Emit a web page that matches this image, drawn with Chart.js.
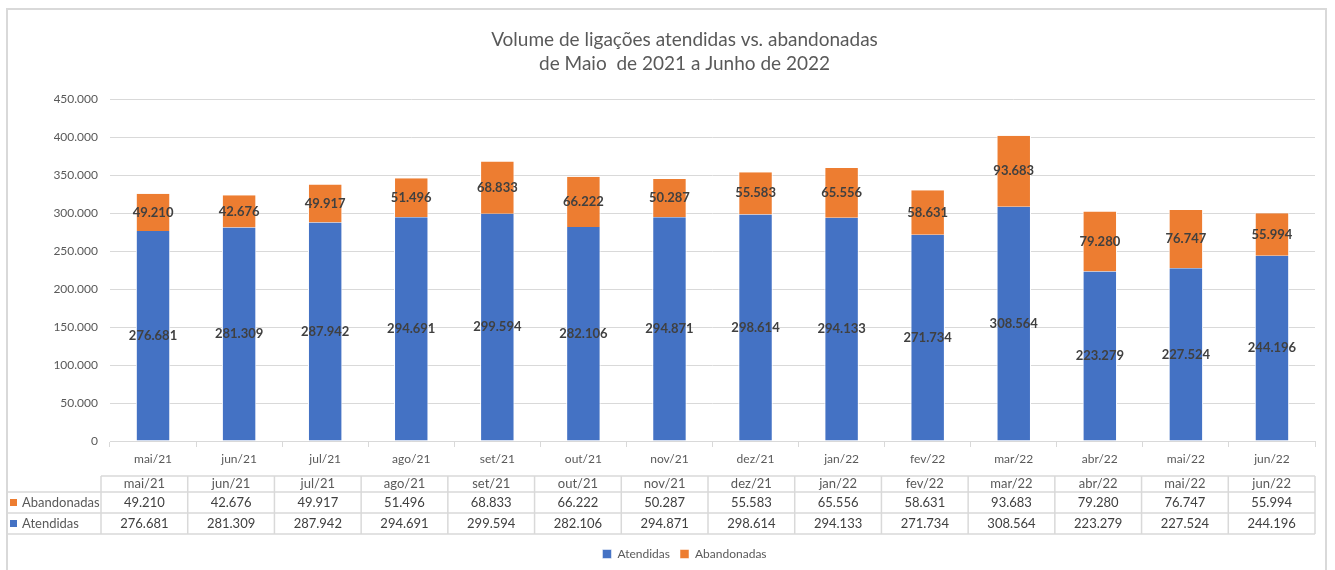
<!DOCTYPE html>
<html>
<head>
<meta charset="utf-8">
<script src="https://cdn.jsdelivr.net/npm/chart.js@4"></script>
<style>
  body { margin: 0; background: #fff; }
  #wrap { position: relative; width: 1335px; height: 570px; }
  #frame { position: absolute; left: 6px; top: 8px; width: 1321px; height: 580px; border: 2px solid #d9d9d9; box-sizing: border-box; }
  canvas { position: absolute; left: 0; top: 0; }
</style>
</head>
<body>
<div id="wrap">
  <div id="frame"></div>
  <canvas id="myChart" width="1335" height="570"></canvas>
</div>
<script>
var meses = ['mai/21', 'jun/21', 'jul/21', 'ago/21', 'set/21', 'out/21', 'nov/21',
             'dez/21', 'jan/22', 'fev/22', 'mar/22', 'abr/22', 'mai/22', 'jun/22'];
var atendidas = [276681, 281309, 287942, 294691, 299594, 282106, 294871,
                 298614, 294133, 271734, 308564, 223279, 227524, 244196];
var abandonadas = [49210, 42676, 49917, 51496, 68833, 66222, 50287,
                   55583, 65556, 58631, 93683, 79280, 76747, 55994];

var AZUL = '#4472C4';
var LARANJA = '#ED7D31';
var FONTE = 'Lato, "Open Sans", sans-serif';

function fmt(v) {
  return String(v).replace(/\B(?=(\d{3})+(?!\d))/g, '.');
}

// rotulos de dados no meio de cada segmento
var rotulos = {
  id: 'rotulos',
  afterDatasetsDraw: function(chart) {
    var ctx = chart.ctx;
    ctx.save();
    ctx.font = 'bold 13px ' + FONTE;
    ctx.fillStyle = '#404040';
    ctx.textAlign = 'center';
    ctx.textBaseline = 'middle';
    chart.data.datasets.forEach(function(ds, i) {
      chart.getDatasetMeta(i).data.forEach(function(bar, j) {
        ctx.fillText(fmt(ds.data[j]), bar.x, (bar.y + bar.base) / 2);
      });
    });
    ctx.restore();
  }
};

// tabela de dados abaixo do eixo x (como no Excel)
var tabela = {
  id: 'tabela',
  afterDraw: function(chart) {
    var ctx = chart.ctx;
    var x = chart.scales.x;
    var left = x.left - 9, right = x.right;
    var colW = (right - left) / meses.length;
    var top = chart.chartArea.bottom + 35;
    var rows = [top, top + 16, top + 37, top + 58];
    ctx.save();
    ctx.strokeStyle = '#d9d9d9';
    ctx.lineWidth = 1.5;
    ctx.beginPath();
    ctx.moveTo(left, rows[0]); ctx.lineTo(right, rows[0]);
    for (var r = 1; r < rows.length; r++) {
      ctx.moveTo(7, rows[r]); ctx.lineTo(right, rows[r]);
    }
    for (var c = 0; c <= meses.length; c++) {
      ctx.moveTo(left + c * colW, rows[0]); ctx.lineTo(left + c * colW, rows[3]);
    }
    ctx.stroke();

    ctx.textAlign = 'center';
    ctx.textBaseline = 'middle';
    ctx.font = '13px ' + FONTE;
    var series = [abandonadas, atendidas];
    meses.forEach(function(m, i) {
      var cx = left + (i + 0.5) * colW;
      ctx.fillStyle = '#595959';
      ctx.fillText(m, cx, (rows[0] + rows[1]) / 2);
      ctx.fillStyle = '#404040';
      series.forEach(function(s, k) {
        ctx.fillText(fmt(s[i]), cx, (rows[k + 1] + rows[k + 2]) / 2);
      });
    });

    var nomes = ['Abandonadas', 'Atendidas'];
    var cores = [LARANJA, AZUL];
    ctx.textAlign = 'left';
    nomes.forEach(function(n, k) {
      var cy = (rows[k + 1] + rows[k + 2]) / 2;
      ctx.fillStyle = cores[k];
      ctx.fillRect(10, cy - 3.5, 7, 7);
      ctx.fillStyle = '#595959';
      ctx.fillText(n, 22, cy);
    });
    ctx.restore();
  }
};

var ctx = document.getElementById('myChart').getContext('2d');
var myChart = new Chart(ctx, {
  type: 'bar',
  data: {
    labels: meses,
    datasets: [{
      label: 'Atendidas',
      data: atendidas,
      backgroundColor: AZUL,
      borderColor: '#ffffff',
      borderWidth: { left: 1, right: 1 },
      stack: 's'
    }, {
      label: 'Abandonadas',
      data: abandonadas,
      backgroundColor: LARANJA,
      borderColor: '#ffffff',
      borderWidth: { left: 1, right: 1 },
      stack: 's'
    }]
  },
  options: {
    responsive: false,
    animation: false,
    layout: { padding: { left: 54, right: 20, top: 0, bottom: 0 } },
    datasets: { bar: { categoryPercentage: 1, barPercentage: 0.4 } },
    scales: {
      x: {
        stacked: true,
        grid: { drawOnChartArea: false, color: '#d9d9d9', tickLength: 6 },
        border: { color: '#d9d9d9' },
        ticks: { color: '#595959', font: { family: FONTE, size: 12 }, padding: 5, maxRotation: 0 },
        afterFit: function(axis) { axis.height = 97; }
      },
      y: {
        stacked: true,
        min: 0,
        max: 450000,
        grid: { color: '#d9d9d9', drawTicks: false },
        border: { display: false },
        ticks: {
          stepSize: 50000,
          padding: 12,
          color: '#595959',
          font: { family: FONTE, size: 12 },
          callback: function(v) { return fmt(v); }
        },
        afterFit: function(axis) { axis.width = 56; }
      }
    },
    plugins: {
      title: {
        display: true,
        text: ['Volume de ligações atendidas vs. abandonadas', 'de Maio  de 2021 a Junho de 2022'],
        color: '#595959',
        font: { family: FONTE, size: 19, weight: 'normal', lineHeight: 1.25 },
        padding: { top: 28, bottom: 24 }
      },
      legend: {
        position: 'bottom',
        labels: {
          boxWidth: 9,
          boxHeight: 9,
          color: '#595959',
          font: { family: FONTE, size: 12 },
          padding: 10
        }
      },
      tooltip: { enabled: false }
    }
  },
  plugins: [rotulos, tabela]
});
</script>
</body>
</html>
